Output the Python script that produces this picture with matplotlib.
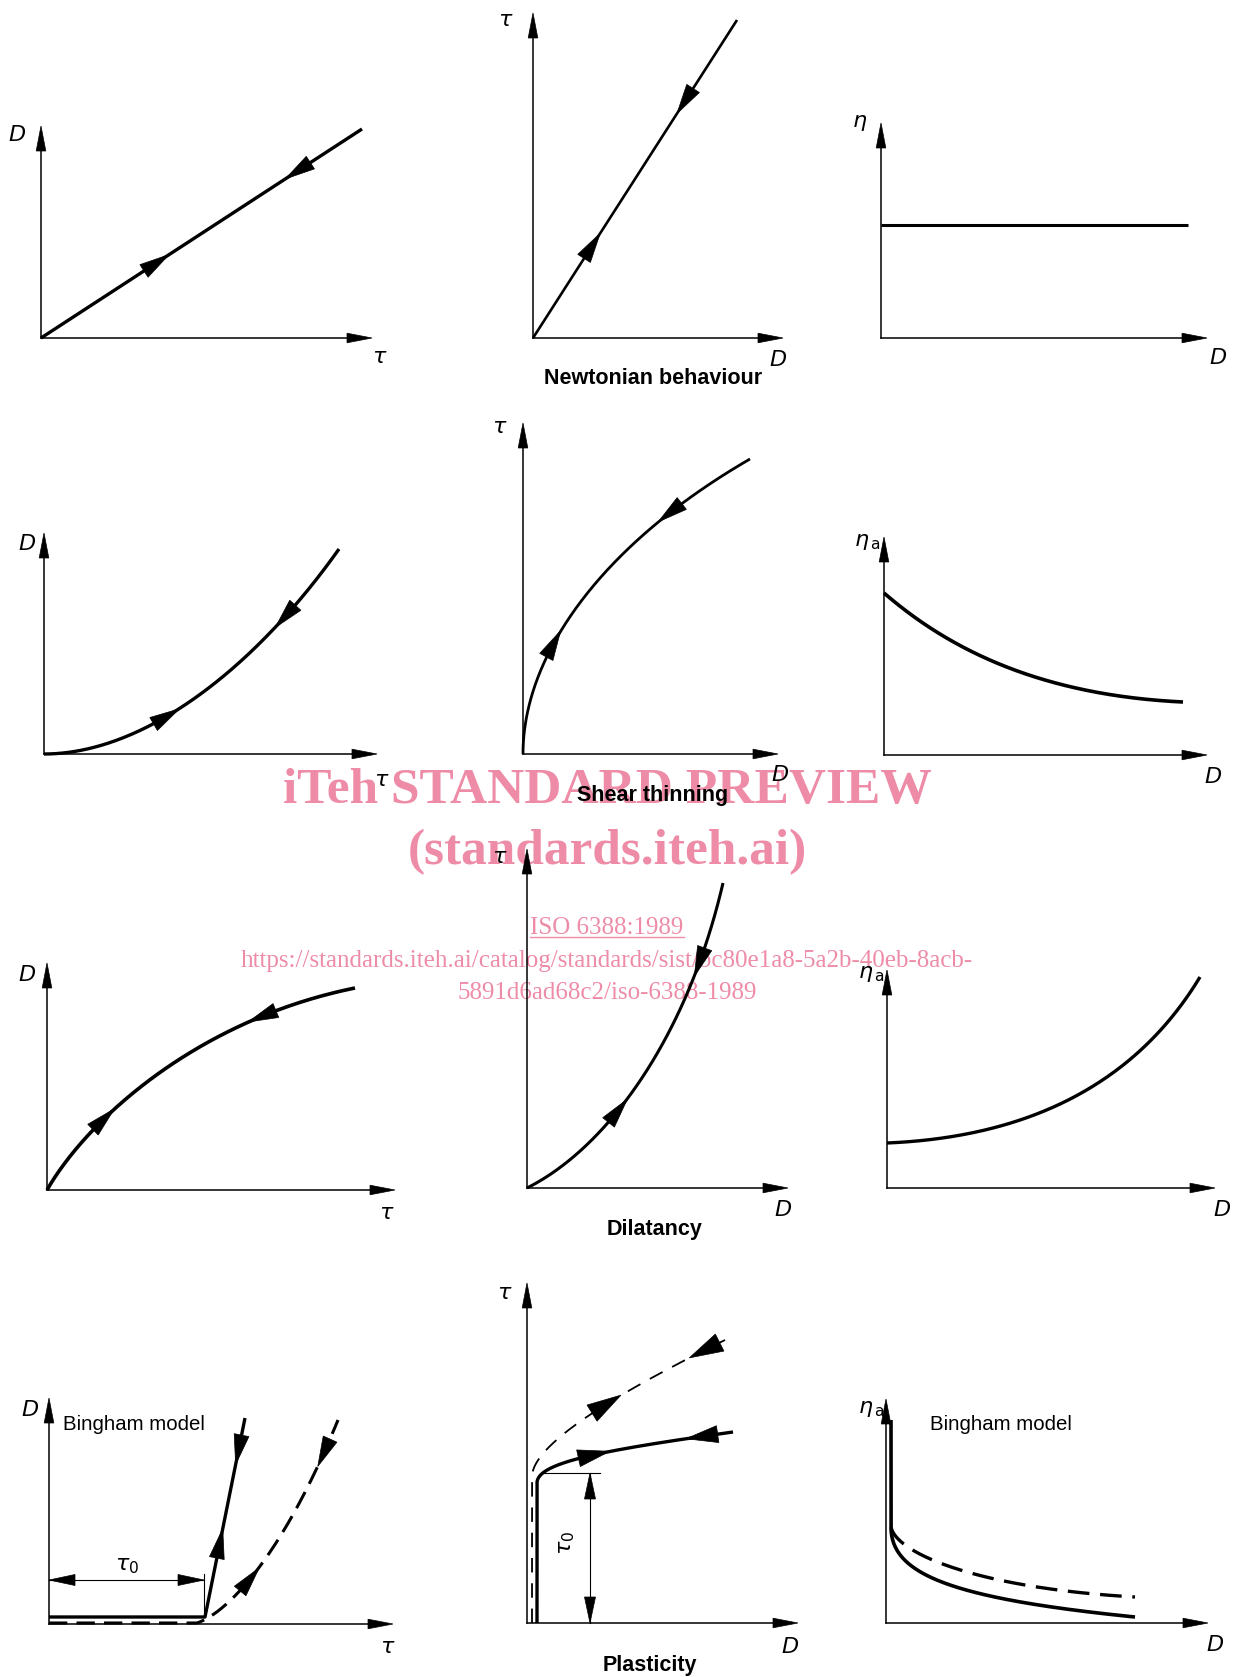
import matplotlib.pyplot as plt
from matplotlib.bezier import BezierSegment
from matplotlib.patches import Polygon
from matplotlib.lines import Line2D
import numpy as np

plt.rcParams['mathtext.fontset'] = 'dejavusans'

W, H = 1233, 1677

# ---- curve data, local pixel units (x right, y up from the panel origin) ----
# each curve = list of segments, each segment = bezier control points
newt_dt = [[(0, 0), (321, 209)]]
newt_td = [[(0, 0), (204, 318)]]
newt_eta = [[(0, 113), (307, 113)]]

thin_dt = [[(0, 0), (100, 0), (210, 85), (295, 205)]]
thin_td = [[(0, 0), (0, 100), (80, 210), (227, 295)]]
thin_eta = [[(0, 162), (60, 110), (150, 60), (299, 53)]]

dil_dt = [[(0, 0), (40, 70), (150, 170), (308, 202)]]
dil_td = [[(0, 0), (80, 40), (160, 150), (196, 305)]]
dil_eta = [[(0, 45), (120, 50), (240, 90), (313, 211)]]

bing_dt = [[(0, 7), (156, 7)], [(156, 7), (196, 206)]]
bing_dt_dash = [[(0, 1), (148, 1)], [(148, 1), (175, 10), (230, 60), (289, 204)]]
plast_td = [[(10, 0), (10, 140)], [(10, 140), (10, 160), (70, 172), (206, 191)]]
plast_td_dash = [[(5, 0), (5, 146)], [(5, 146), (5, 175), (70, 220), (198, 283)]]
bing_eta = [[(5, 203), (5, 96)], [(5, 96), (5, 50), (60, 25), (249, 6)]]
bing_eta_dash = [[(5, 96), (10, 70), (90, 35), (249, 26)]]

# arrows on curves: (segment, t, +1 forward / -1 backward)
newt_dt_arr = [(0, 0.36, 1), (0, 0.80, -1)]
newt_td_arr = [(0, 0.29, 1), (0, 0.745, -1)]
thin_dt_arr = [(0, 0.40, 1), (0, 0.80, -1)]
thin_td_arr = [(0, 0.36, 1), (0, 0.80, -1)]
dil_dt_arr = [(0, 0.31, 1), (0, 0.79, -1)]
dil_td_arr = [(0, 0.39, 1), (0, 0.82, -1)]
bing_dt_arr = [(1, 0.37, 1), (1, 0.84, -1)]
bing_dt_dash_arr = [(1, 0.46, 1), (1, 0.92, -1)]
plast_td_arr = [(1, 0.55, 1), (1, 0.92, -1)]
plast_td_dash_arr = [(1, 0.62, 1), (1, 0.945, -1)]

# yield stress dimension lines
tau0_h = [(0, 44), (155, 44)]
tau0_v = [(63, 0), (63, 150)]


fig = plt.figure(figsize=(W / 100, H / 100), dpi=100)


def head(ax, tip, d, L, hw, z=5):
    d = np.asarray(d, float)
    d = d / np.hypot(*d)
    n = np.array([-d[1], d[0]])
    tip = np.asarray(tip, float)
    base = tip - d * L
    ax.add_patch(Polygon([tip, base + n * hw, base - n * hw], closed=True,
                         fc='black', ec='black', lw=0.5, zorder=z, clip_on=False))


def frame(ox, oy, xlen, ylen):
    ax = fig.add_axes([(ox - 60) / W, (H - oy - 60) / H, (xlen + 110) / W, (ylen + 100) / H])
    ax.set_xlim(-60, xlen + 50)
    ax.set_ylim(-60, ylen + 40)
    ax.axis('off')
    ax.plot([0, xlen - 15], [0, 0], color='black', lw=1.1, clip_on=False)
    ax.plot([0, 0], [0, ylen - 15], color='black', lw=1.1, clip_on=False)
    head(ax, (xlen, 0), (1, 0), 25, 4.8)
    head(ax, (0, ylen), (0, 1), 25, 4.8)
    return ax


def curve(ax, segs, arrows=(), lw=2.3, dashes=None, L=30, hw=7.5):
    pts = []
    for s in segs:
        p = BezierSegment(np.array(s, float))(np.linspace(0, 1, 200))
        pts.append(p)
    p = np.vstack(pts)
    kw = dict(color='black', lw=lw, clip_on=False, solid_capstyle='butt',
              solid_joinstyle='round')
    if dashes:
        kw['dashes'] = dashes
    ax.plot(p[:, 0], p[:, 1], **kw)
    for si, t, sgn in arrows:
        seg = BezierSegment(np.array(segs[si], float))
        c = np.array(seg.point_at_t(t))
        d = (np.array(seg.point_at_t(min(t + 0.01, 1)))
             - np.array(seg.point_at_t(max(t - 0.01, 0)))) * sgn
        d = d / np.hypot(*d)
        head(ax, c + d * L / 2, d, L, hw)


lab = dict(fontsize=16, ha='center', va='center')
cap = dict(fontsize=15.5, ha='center', va='center', fontweight='bold', family='Liberation Sans')
txt = dict(fontsize=14.7, ha='left', va='center', family='Liberation Sans')
ETA_A = r'$\eta_{\,\mathrm{a}}$'

# row 1: Newtonian
ax = frame(41, 338, 331, 212)
curve(ax, newt_dt, newt_dt_arr, lw=2.4)
ax.text(-24, 203, '$D$', **lab)
ax.text(339, -19, r'$\tau$', **lab)

ax = frame(533, 338, 250, 325)
curve(ax, newt_td, newt_td_arr, lw=1.9)
ax.text(-27, 318, r'$\tau$', **lab)
ax.text(245, -22, '$D$', **lab)
ax.text(120, -40, 'Newtonian behaviour', **cap)

ax = frame(881, 338, 326, 215)
curve(ax, newt_eta, lw=2.2)
ax.text(-21, 215, r'$\eta$', **lab)
ax.text(337, -20, '$D$', **lab)

# row 2: shear thinning
ax = frame(44, 754, 333, 221)
curve(ax, thin_dt, thin_dt_arr, lw=2.4)
ax.text(-17, 210, '$D$', **lab)
ax.text(338, -26, r'$\tau$', **lab)

ax = frame(523, 754, 255, 331)
curve(ax, thin_td, thin_td_arr, lw=2.0)
ax.text(-23, 327, r'$\tau$', **lab)
ax.text(257, -21, '$D$', **lab)
ax.text(130, -41, 'Shear thinning', **cap)

ax = frame(884, 755, 323, 218)
curve(ax, thin_eta, lw=2.6)
ax.text(-17, 213, ETA_A, **lab)
ax.text(329, -22, '$D$', **lab)

# row 3: dilatancy
ax = frame(47, 1190, 348, 227)
curve(ax, dil_dt, dil_dt_arr, lw=2.6)
ax.text(-20, 215, '$D$', **lab)
ax.text(340, -23, r'$\tau$', **lab)

ax = frame(527, 1188, 261, 339)
curve(ax, dil_td, dil_td_arr, lw=2.2)
ax.text(-27, 331, r'$\tau$', **lab)
ax.text(256, -22, '$D$', **lab)
ax.text(128, -41, 'Dilatancy', **cap)

ax = frame(887, 1188, 328, 218)
curve(ax, dil_eta, lw=2.4)
ax.text(-16, 214, ETA_A, **lab)
ax.text(335, -22, '$D$', **lab)

# row 4: plasticity
ax = frame(49, 1624, 344, 226)
curve(ax, bing_dt, bing_dt_arr, lw=2.4)
curve(ax, bing_dt_dash, bing_dt_dash_arr, lw=2.2, dashes=(6, 3))
ax.plot([p[0] for p in tau0_h], [p[1] for p in tau0_h], color='black', lw=0.8, clip_on=False)
head(ax, tau0_h[0], (-1, 0), 26, 5.5)
head(ax, tau0_h[1], (1, 0), 26, 5.5)
ax.plot([tau0_h[1][0]] * 2, [7, 50], color='black', lw=0.8, clip_on=False)
ax.text(78, 58, r'$\tau_0$', **lab)
ax.text(14, 199, 'Bingham model', **txt)
ax.text(-19, 214, '$D$', **lab)
ax.text(339, -23, r'$\tau$', **lab)

ax = frame(527, 1623, 271, 340)
curve(ax, plast_td, plast_td_arr, lw=2.4, L=32, hw=8.5)
curve(ax, plast_td_dash, plast_td_dash_arr, lw=1.3, dashes=(8, 6), L=34, hw=9.5)
ax.plot([15, 73], [tau0_v[1][1]] * 2, color='black', lw=0.8, clip_on=False)
ax.plot([p[0] for p in tau0_v], [p[1] for p in tau0_v], color='black', lw=0.8, clip_on=False)
head(ax, tau0_v[0], (0, -1), 26, 5.5)
head(ax, tau0_v[1], (0, 1), 26, 5.5)
ax.text(40, 80, r'$\tau_0$', rotation=90, **lab)
ax.text(-22, 330, r'$\tau$', **lab)
ax.text(263, -24, '$D$', **lab)
ax.text(123, -42, 'Plasticity', **cap)

ax = frame(886, 1623, 322, 224)
curve(ax, bing_eta, lw=2.6)
curve(ax, bing_eta_dash, lw=2.4, dashes=(6.5, 3.2))
ax.text(44, 198, 'Bingham model', **txt)
ax.text(-15, 214, ETA_A, **lab)
ax.text(329, -22, '$D$', **lab)

# watermark
pink = '#EE8CA8'
wm = dict(ha='center', va='center', color=pink, family='Liberation Serif', zorder=-1)
fig.text(607 / W, 1 - 791 / H, 'iTeh STANDARD PREVIEW', fontsize=37, fontweight='bold', **wm)
fig.text(607 / W, 1 - 852 / H, '(standards.iteh.ai)', fontsize=37, fontweight='bold', **wm)
iso = fig.text(607 / W, 1 - 928 / H, 'ISO 6388:1989', fontsize=18, **wm)
fig.text(607 / W, 1 - 961 / H,
         'https://standards.iteh.ai/catalog/standards/sist/bc80e1a8-5a2b-40eb-8acb-',
         fontsize=18, **wm)
fig.text(607 / W, 1 - 993 / H, '5891d6ad68c2/iso-6388-1989', fontsize=18, **wm)

fig.canvas.draw()
bb = iso.get_window_extent().transformed(fig.transFigure.inverted())
fig.add_artist(Line2D([bb.x0, bb.x1], [bb.y0 + 0.0012, bb.y0 + 0.0012],
                      color=pink, lw=1.0, zorder=-1))

fig.savefig('out.png', dpi=100)
